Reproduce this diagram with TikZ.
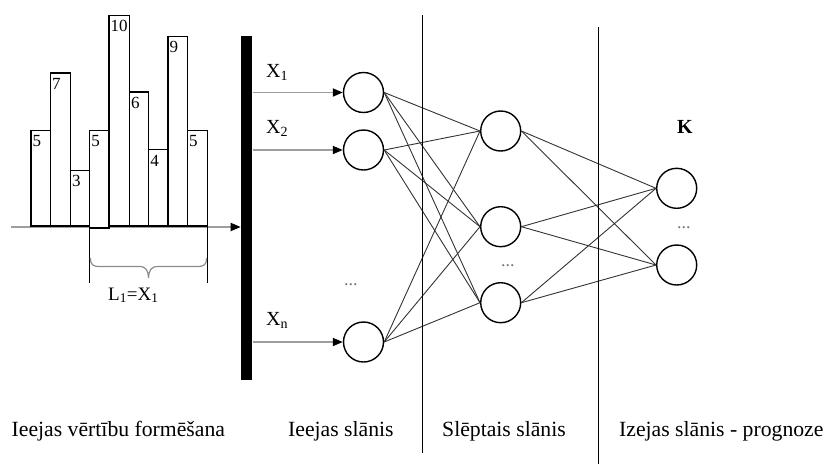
\documentclass[tikz,border=0pt]{standalone}
\usepackage{fontspec}
\setmainfont{Liberation Serif}
\usetikzlibrary{arrows.meta}
\begin{document}
\begin{tikzpicture}[x=1pt,y=-1pt,
  neuron/.style={circle,draw=black,line width=1.4pt,minimum size=40pt,inner sep=0pt},
  link/.style={draw=black!80,line width=0.9pt},
  feed/.style={draw=black!38,line width=1.8pt,-{Triangle[length=10pt,width=8pt,color=black]}},
  barbox/.style={draw=black,line width=1.1pt,fill=white},
  val/.style={anchor=north west,inner sep=0pt,font=\fontsize{17}{17}\selectfont},
  caption/.style={anchor=base west,inner sep=0pt,font=\fontsize{21.7}{21.7}\selectfont},
  sym/.style={anchor=base west,inner sep=0pt,font=\fontsize{20}{20}\selectfont},
  gap/.style={anchor=base west,inner sep=0pt,text=black!55,font=\fontsize{18}{18}\selectfont},
  divider/.style={draw=black,line width=1.1pt}]

\useasboundingbox (0,0) rectangle (825,464);

% time axis feeding the input bus
\node[fill=black,inner sep=0pt,minimum width=11.5pt,minimum height=344pt,anchor=north west] (bus) at (240.7,36) {};
\coordinate (src) at (11,227);
\draw[feed] (src) -- (src -| bus.west);

% series values as bars
\foreach \l/\r/\t/\b/\v [count=\k] in {
    31/50.3/130.3/226/5, 50.3/70.3/73/226/7, 70.3/89.7/170.3/226/3,
    89.7/109/130.3/228/5, 109/129.3/15.3/226/10, 129.3/148.7/92/226/6,
    148.7/168/149.7/226/4, 168/187.3/36.3/226/9, 187.3/207.3/130.3/226/5} {
  \draw[barbox] (\l,\b) rectangle (\r,\t);
  \node[val] (v\k) at (\l+1.5,\t+5) {\v};
}

% window marker with brace
\draw[line width=1.1pt] (89.7,228) -- (89.7,283);
\draw[line width=1.1pt] (207.3,226) -- (207.3,283);
\draw[black!45,line width=1.2pt] (90.5,258) .. controls (90.5,265) and (93,266.5) .. (100,266.5)
  -- (139,266.5) .. controls (146,266.5) and (148,270) .. (148.5,278)
  .. controls (149,270) and (151,266.5) .. (158,266.5)
  -- (197,266.5) .. controls (204,266.5) and (206.5,265) .. (206.5,258);
\node[anchor=base west,inner sep=0pt,font=\fontsize{19}{19}\selectfont] (win) at (108,300) {L\textsubscript{1}=X\textsubscript{1}};

% input layer
\node[neuron] (i1) at (363.5,92.5) {};
\node[neuron] (i2) at (363.5,150) {};
\node[neuron] (i3) at (363.5,342) {};
\foreach \n in {1,2,3} \draw[feed] (bus.east |- i\n) -- (i\n.west);
\node[sym] (x1) at (266,77) {X\textsubscript{1}};
\node[sym] (x2) at (266,133.5) {X\textsubscript{2}};
\node[sym] (xn) at (266,325) {X\textsubscript{n}};
\node[gap] (d1) at (344,285) {...};

% hidden layer
\node[neuron] (h1) at (500.7,131) {};
\node[neuron] (h2) at (500.7,226.7) {};
\node[neuron] (h3) at (500.7,302.7) {};
\node[gap] (d2) at (501,266) {...};

% output layer
\node[neuron] (o1) at (676.7,188.3) {};
\node[neuron] (o2) at (676.7,265) {};
\node[gap] (d3) at (677,228) {...};
\node[anchor=base west,inner sep=0pt,font=\fontsize{20}{20}\selectfont\bfseries] (k) at (677,133.3) {K};

% full connections
\foreach \a in {1,2,3} \foreach \b in {1,2,3} \draw[link] (i\a.east) -- (h\b.west);
\foreach \a in {1,2,3} \foreach \b in {1,2} \draw[link] (h\a.east) -- (o\b.west);

% layer dividers
\coordinate (t1) at (422.7,15);   \coordinate (b1) at (422.7,453);
\coordinate (t2) at (598.7,27.3); \coordinate (b2) at (598.7,464);
\draw[divider] (t1) -- (b1);
\draw[divider] (t2) -- (b2);

% captions
\node[caption] (c1) at (11.5,436.7) {Ieejas vērtību formēšana};
\node[caption] (c2) at (288,436.7) {Ieejas slānis};
\node[caption] (c3) at (442,436.7) {Slēptais slānis};
\node[caption] (c4) at (619,436.7) {Izejas slānis - prognoze};
\end{tikzpicture}
\end{document}
